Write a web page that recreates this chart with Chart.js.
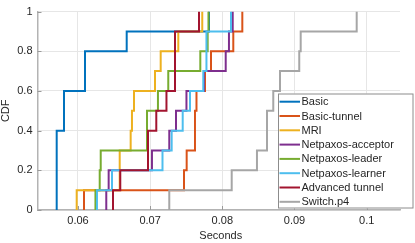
<!DOCTYPE html>
<html>
<head>
<meta charset="utf-8">
<script src="https://cdn.jsdelivr.net/npm/chart.js@4.4.1/dist/chart.umd.min.js"></script>
<style>
  html, body { margin: 0; padding: 0; background: #fff; }
  #wrap { width: 415px; height: 243px; }
</style>
</head>
<body>
<div id="wrap"><canvas id="cdfChart" width="415" height="243"></canvas></div>
<script>
// series names, in plot order
const seriesNames = ['Basic', 'Basic-tunnel', 'MRI', 'Netpaxos-acceptor',
    'Netpaxos-leader', 'Netpaxos-learner', 'Advanced tunnel', 'Switch.p4'];

// where each CDF steps up (seconds) and the level it reaches there
const basicX = [0.05705, 0.05806, 0.06097, 0.06675, 0.07815];
const basicY = [0.4, 0.6, 0.8, 0.9, 1.0];

const basicTunnelX = [0.06083, 0.07469, 0.07506, 0.07621, 0.07642, 0.0776, 0.07843, 0.08152, 0.08277];
const basicTunnelY = [0.1, 0.2, 0.3, 0.5, 0.6, 0.7, 0.8, 0.9, 1.0];

const mriX = [0.05982, 0.06578, 0.0673, 0.06748, 0.06776, 0.07067, 0.07146, 0.0739, 0.07722];
const mriY = [0.1, 0.3, 0.4, 0.5, 0.6, 0.7, 0.8, 0.9, 1.0];

const acceptorX = [0.06392, 0.06425, 0.07025, 0.07265, 0.07358, 0.07503, 0.07746, 0.08047, 0.08092, 0.08144];
const acceptorY = [0.1, 0.2, 0.3, 0.4, 0.5, 0.6, 0.7, 0.8, 0.9, 1.0];

const leaderX = [0.06242, 0.06301, 0.06315, 0.06956, 0.07108, 0.07251, 0.07695, 0.07797, 0.07808];
const leaderY = [0.1, 0.2, 0.3, 0.5, 0.6, 0.7, 0.8, 0.9, 1.0];

const learnerX = [0.06263, 0.06471, 0.07171, 0.07298, 0.07451, 0.07552, 0.07736, 0.0778, 0.0812];
const learnerY = [0.1, 0.2, 0.3, 0.4, 0.5, 0.6, 0.7, 0.9, 1.0];

const advancedX = [0.06485, 0.06586, 0.0697, 0.07085, 0.07226, 0.07344, 0.07677];
const advancedY = [0.1, 0.2, 0.4, 0.5, 0.6, 0.9, 1.0];

const switchX = [0.07265, 0.0813, 0.0848, 0.08619, 0.08706, 0.08799, 0.09066, 0.09086, 0.09862];
const switchY = [0.1, 0.2, 0.3, 0.5, 0.6, 0.7, 0.8, 0.9, 1.0];

const xTicks = [0.06, 0.07, 0.08, 0.09, 0.1];
const yTicks = [0, 0.2, 0.4, 0.6, 0.8, 1];

const colors = ['#0072BD', '#D95319', '#EDB120', '#7E2F8E', '#77AC30', '#4DBEEE', '#A2142F', '#A6A6A6'];
const seriesX = [basicX, basicTunnelX, mriX, acceptorX, leaderX, learnerX, advancedX, switchX];
const seriesY = [basicY, basicTunnelY, mriY, acceptorY, leaderY, learnerY, advancedY, switchY];

const FONT = '"Liberation Sans", Arial, Helvetica, sans-serif';
const TEXT = '#262626';

function cdfPoints(xs, ys) {
    const pts = [{ x: xs[0], y: 0 }];
    xs.forEach((x, i) => pts.push({ x: x, y: ys[i] }));
    return pts;
}

const datasets = seriesNames.map((name, i) => ({
    label: name,
    data: cdfPoints(seriesX[i], seriesY[i]),
    borderColor: colors[i],
    backgroundColor: colors[i],
    borderWidth: 2,
    pointRadius: 0,
    stepped: 'before',
    fill: false,
    order: seriesNames.length - i   // later series drawn on top, like MATLAB
}));

// inward ticks, axis titles and the legend box
const extras = {
    id: 'extras',
    afterDraw(chart) {
        const ctx = chart.ctx;
        const area = chart.chartArea;
        const xs = chart.scales.x, ys = chart.scales.y;
        ctx.save();
        ctx.strokeStyle = '#9a9a9a';
        ctx.lineWidth = 1;
        xTicks.forEach(t => {
            const px = Math.round(xs.getPixelForValue(t)) + 0.5;
            ctx.beginPath();
            ctx.moveTo(px, area.bottom);
            ctx.lineTo(px, area.bottom - 4);
            ctx.stroke();
        });
        yTicks.forEach(t => {
            const py = Math.round(ys.getPixelForValue(t)) + 0.5;
            ctx.beginPath();
            ctx.moveTo(area.left, py);
            ctx.lineTo(area.left + 4, py);
            ctx.stroke();
        });

        // axis titles
        ctx.fillStyle = TEXT;
        ctx.font = '11px ' + FONT;
        ctx.textAlign = 'center';
        ctx.textBaseline = 'middle';
        ctx.fillText('Seconds', (area.left + area.right) / 2 + 2, 236);
        ctx.save();
        ctx.translate(6, (area.top + area.bottom) / 2);
        ctx.rotate(-Math.PI / 2);
        ctx.fillText('CDF', 0, 0);
        ctx.restore();

        // legend
        const lx = 278, ly = 93.5, lw = 135.5, lh = 115;
        ctx.fillStyle = '#fff';
        ctx.fillRect(lx, ly, lw, lh);
        ctx.strokeStyle = '#8c8c8c';
        ctx.lineWidth = 1;
        ctx.strokeRect(lx + 0.5, ly + 0.5, lw - 1, lh - 1);
        ctx.textAlign = 'left';
        seriesNames.forEach((name, i) => {
            const y = 101.7 + i * 14.3;
            ctx.strokeStyle = colors[i];
            ctx.lineWidth = 2;
            ctx.beginPath();
            ctx.moveTo(279.5, y);
            ctx.lineTo(300, y);
            ctx.stroke();
            ctx.fillStyle = TEXT;
            ctx.fillText(name, 301.5, y + 0.5);
        });
        ctx.restore();
    }
};

new Chart(document.getElementById('cdfChart').getContext('2d'), {
    type: 'line',
    data: { datasets: datasets },
    options: {
        responsive: false,
        animation: false,
        layout: { padding: { top: 5, right: 15, left: 0, bottom: 0 } },
        plugins: { legend: { display: false }, tooltip: { enabled: false } },
        scales: {
            x: {
                type: 'linear',
                min: 0.05439,
                max: 0.10462,
                afterBuildTicks: scale => { scale.ticks = xTicks.map(v => ({ value: v })); },
                afterFit: scale => { scale.height = 33; },
                ticks: {
                    padding: 4,
                    color: TEXT,
                    font: { family: FONT, size: 11 },
                    callback: v => String(+v.toFixed(2))
                },
                grid: { color: '#e6e6e6', drawTicks: false },
                border: { display: true, color: '#b3b3b3', width: 1.5 }
            },
            y: {
                min: 0,
                max: 1,
                afterBuildTicks: scale => { scale.ticks = yTicks.map(v => ({ value: v })); },
                afterFit: scale => { scale.width = 37.5; },
                ticks: {
                    padding: 5,
                    color: TEXT,
                    font: { family: FONT, size: 11 },
                    callback: v => String(+v.toFixed(1))
                },
                grid: { color: '#e6e6e6', drawTicks: false },
                border: { display: true, color: '#b3b3b3', width: 1.5 }
            }
        }
    },
    plugins: [extras]
});
</script>
</body>
</html>
